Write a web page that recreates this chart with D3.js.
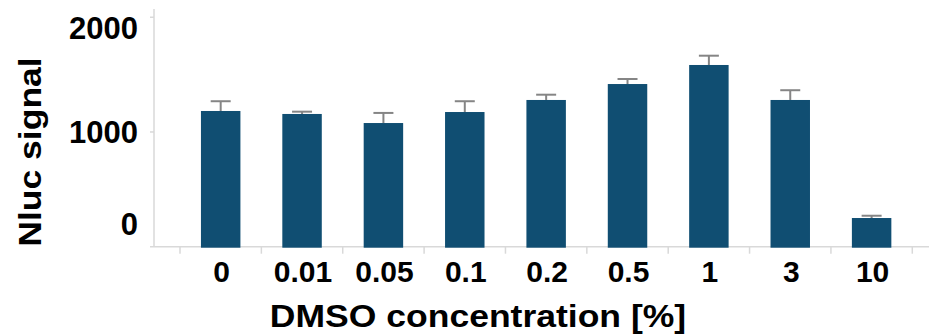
<!DOCTYPE html>
<html>
<head>
<meta charset="utf-8">
<script src="https://cdn.jsdelivr.net/npm/d3@7"></script>
<style>
    body{ margin:0; background:#fff; }
    svg{ display:block; }
</style>
</head>
<body>
<svg width="929" height="336"></svg>
<script>
const categories = ["0", "0.01", "0.05", "0.1", "0.2", "0.5", "1", "3", "10"];
const signal = [1183, 1157, 1078, 1174, 1279, 1418, 1584, 1279, 250];
const errors = [85, 20, 88, 94, 46, 44, 81, 85, 20];
const yTicks = [0, 1000, 2000];

const BAR = "#104e72";
const AXIS = "#d9d9d9";
const ERR = "#858585";

let svg = d3.select("svg");
let fontFam = "'Liberation Sans', Arial, sans-serif";

let x = d3.scaleBand()
    .domain(categories)
    .range([180, 912.3])
    .paddingInner(0.515)
    .paddingOuter(0.2575);

let y = d3.scaleLinear()
    .domain([0, 2072])
    .range([246.7, 9]);

let data = categories.map((c, i) => ({cat: c, v: signal[i], e: errors[i]}));

// axis lines
svg.append("line")
    .attr("x1", 150).attr("x2", 929)
    .attr("y1", y(0)).attr("y2", y(0))
    .attr("stroke", AXIS).attr("stroke-width", 1.5);

svg.append("line")
    .attr("x1", 154).attr("x2", 154)
    .attr("y1", y(2072)).attr("y2", y(0))
    .attr("stroke", AXIS).attr("stroke-width", 1.5);

// x ticks sit on the band edges, not on the bars
let step = x.step();
let edges = categories.map(c => x(c) + x.bandwidth() / 2 - step / 2);
edges.push(edges[edges.length - 1] + step);

svg.selectAll(".xtick")
    .data(edges)
    .enter().append("line")
        .attr("x1", d => d).attr("x2", d => d)
        .attr("y1", y(0)).attr("y2", y(0) + 7)
        .attr("stroke", AXIS).attr("stroke-width", 1.5);

svg.selectAll(".ytick")
    .data(yTicks.filter(t => t > 0))
    .enter().append("line")
        .attr("x1", 150).attr("x2", 154)
        .attr("y1", d => y(d)).attr("y2", d => y(d))
        .attr("stroke", AXIS).attr("stroke-width", 1.5);

// bars
svg.selectAll(".bar")
    .data(data)
    .enter().append("rect")
        .attr("x", d => x(d.cat))
        .attr("y", d => y(d.v))
        .attr("width", x.bandwidth())
        .attr("height", d => y(0) - y(d.v) + 1)
        .attr("fill", BAR);

// error bars (upper half only)
let eb = svg.selectAll(".err")
    .data(data)
    .enter().append("g");

eb.append("line")
    .attr("x1", d => x(d.cat) + x.bandwidth() / 2)
    .attr("x2", d => x(d.cat) + x.bandwidth() / 2)
    .attr("y1", d => y(d.v))
    .attr("y2", d => y(d.v + d.e))
    .attr("stroke", ERR).attr("stroke-width", 2);

eb.append("line")
    .attr("x1", d => x(d.cat) + x.bandwidth() / 2 - 10)
    .attr("x2", d => x(d.cat) + x.bandwidth() / 2 + 10)
    .attr("y1", d => y(d.v + d.e))
    .attr("y2", d => y(d.v + d.e))
    .attr("stroke", ERR).attr("stroke-width", 2);

// tick labels
svg.selectAll(".xlab")
    .data(categories)
    .enter().append("text")
        .text(d => d)
        .attr("x", d => x(d) + x.bandwidth() / 2 + 1)
        .attr("y", 282)
        .attr("text-anchor", "middle")
        .attr("font-family", fontFam)
        .attr("font-weight", "bold")
        .attr("font-size", 30)
        .attr("fill", "#000");

// labels are kept inside the axis span, so top and bottom ones are nudged
svg.selectAll(".ylab")
    .data(yTicks)
    .enter().append("text")
        .text(d => d)
        .attr("x", 138)
        .attr("y", d => Math.min(Math.max(y(d) + 11, y(2000) + 22), y(0) - 12))
        .attr("text-anchor", "end")
        .attr("font-family", fontFam)
        .attr("font-weight", "bold")
        .attr("font-size", 31)
        .attr("fill", "#000");

// titles: the original type is a bit wider than Liberation, so stretch it sideways
svg.append("text")
    .text("DMSO concentration [%]")
    .attr("transform", "translate(478,327) scale(1.11,1)")
    .attr("text-anchor", "middle")
    .attr("font-family", fontFam)
    .attr("font-weight", "bold")
    .attr("font-size", 32)
    .attr("fill", "#000");

svg.append("text")
    .text("Nluc signal")
    .attr("transform", "translate(41,152) rotate(-90) scale(1.11,1)")
    .attr("text-anchor", "middle")
    .attr("font-family", fontFam)
    .attr("font-weight", "bold")
    .attr("font-size", 32)
    .attr("fill", "#000");
</script>
</body>
</html>
